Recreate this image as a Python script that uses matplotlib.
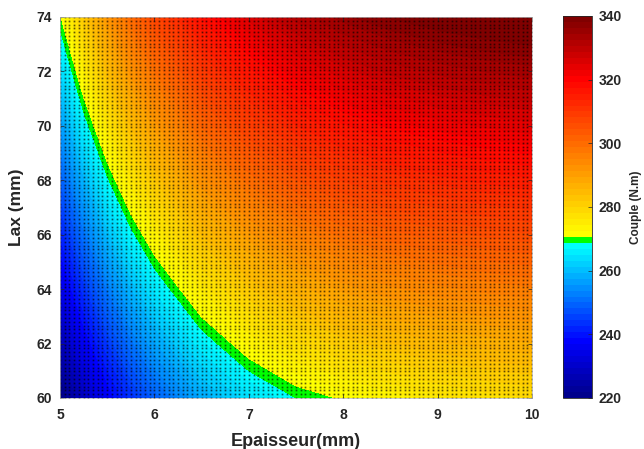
import numpy as np
import matplotlib
matplotlib.use("Agg")
import matplotlib.pyplot as plt
from matplotlib.colors import ListedColormap, Normalize
from matplotlib.cm import ScalarMappable

plt.rcParams['font.family'] = ['Liberation Sans', 'DejaVu Sans']

# Magnet thickness (mm) and axial length Lax (mm)
thickness = [5.0, 5.25, 5.5, 5.75, 6.0, 6.5, 7.0, 7.5, 8.0, 8.5, 9.0, 9.5, 10.0]
lax = [60, 62, 64, 66, 68, 70, 72, 74]

# Torque (N.m), one row per Lax value
torque = [
    [219.0, 228.4, 236.3, 243.1, 248.8, 257.7, 264.1, 268.5, 270.9, 273.3, 275.4, 277.0, 278.0],
    [226.3, 236.0, 244.2, 251.2, 257.1, 266.3, 272.9, 277.6, 281.0, 283.4, 285.1, 286.4, 287.3],
    [233.6, 243.6, 252.1, 259.3, 265.3, 274.9, 281.7, 286.5, 290.0, 292.5, 294.3, 295.6, 296.6],
    [240.9, 251.3, 260.0, 267.4, 273.6, 283.5, 290.5, 295.5, 299.1, 301.7, 303.5, 304.9, 305.8],
    [248.2, 258.9, 267.9, 275.5, 281.9, 292.1, 299.3, 304.4, 308.2, 310.8, 312.7, 314.1, 315.1],
    [255.5, 266.5, 275.7, 283.6, 290.2, 300.7, 308.1, 313.4, 317.2, 320.0, 321.9, 323.3, 324.4],
    [262.8, 274.1, 283.6, 291.7, 298.5, 309.2, 316.9, 322.3, 326.3, 329.1, 331.1, 332.6, 333.6],
    [270.1, 281.7, 291.5, 299.8, 306.8, 317.8, 325.7, 331.3, 335.4, 338.3, 340.3, 341.8, 342.9],
]

cbar_ticks = [220, 240, 260, 280, 300, 320, 340]

# 64-entry colormap: dark blue -> cyan, one green entry, yellow -> red -> dark red
cols = []
for i in range(26):
    if i < 9:
        cols.append((0.0, 0.0, 0.55 + 0.45 * i / 9))
    else:
        cols.append((0.0, (i - 9) / 16, 1.0))
cols.append((0.0, 1.0, 0.0))
for i in range(27, 64):
    if i <= 53:
        cols.append((1.0, 1.0 - (i - 27) / 26, 0.0))
    else:
        cols.append((1.0 - 0.5 * (i - 53) / 10, 0.0, 0.0))
cmap = ListedColormap(cols)
norm = Normalize(vmin=220, vmax=340)

E, L = np.meshgrid(thickness, lax)
T = np.array(torque)

fig = plt.figure(figsize=(6.44, 4.49), dpi=100)
ax = fig.add_axes([0.0932, 0.1136, 0.7329, 0.8486])

fill_levels = np.arange(218, 346, 0.5)
ax.contourf(E, L, T, levels=fill_levels, cmap=cmap, norm=norm)

# sample points of the computation grid, shown as fine dark dots
ge, gl = np.meshgrid(np.linspace(5, 10, 101), np.linspace(60, 74, 101))
ax.plot(ge.ravel(), gl.ravel(), linestyle='none', marker='s', markersize=1.25,
        markeredgewidth=0, color='k', alpha=0.62)

ax.set_xlim(5, 10)
ax.set_ylim(60, 74)
ax.set_xticks([5, 6, 7, 8, 9, 10])
ax.set_yticks(np.arange(60, 75, 2))
ax.tick_params(direction='in', length=3, width=0.5, colors='#262626',
               labelsize=10, top=True, right=True)
ax.tick_params(axis='x', pad=7)
ax.tick_params(axis='y', pad=6)
for lab in ax.get_xticklabels() + ax.get_yticklabels():
    lab.set_fontweight('bold')
for sp in ax.spines.values():
    sp.set_color('#bbbbbb')
    sp.set_linewidth(0.5)
ax.set_xlabel('Epaisseur(mm)', fontsize=13, fontweight='bold', color='#262626', labelpad=8)
ax.set_ylabel('Lax (mm)', fontsize=12.5, fontweight='bold', color='#262626', labelpad=9)

cax = fig.add_axes([0.874, 0.1136, 0.045, 0.8508])
cb = fig.colorbar(ScalarMappable(norm=norm, cmap=cmap), cax=cax, ticks=cbar_ticks)
cb.outline.set_linewidth(0.6)
cb.outline.set_edgecolor('#262626')
cax.tick_params(direction='in', length=3, width=0.5, colors='#262626', labelsize=10, pad=5)
for lab in cax.get_yticklabels():
    lab.set_fontweight('bold')
cb.set_label('Couple (N.m)', fontsize=8.5, fontweight='bold', color='#262626', labelpad=6)

fig.savefig('out.png', dpi=100)
